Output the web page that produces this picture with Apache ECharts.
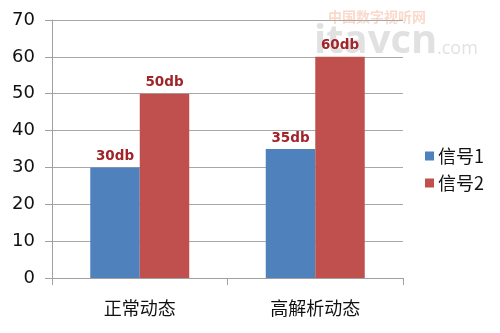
<!DOCTYPE html>
<html><head><meta charset="utf-8">
<script src="https://cdn.jsdelivr.net/npm/echarts@6/dist/echarts.min.js"></script>
<style>html,body{margin:0;padding:0;background:#fff}#c{width:500px;height:333px}</style>
</head><body><div id="c"></div>
<script>
const categories = ['正常动态', '高解析动态'];
const series1Name = '信号1';
const series2Name = '信号2';
const series1 = [30, 35];
const series2 = [50, 60];
const yTicks = [0, 10, 20, 30, 40, 50, 60, 70];

const chart = echarts.init(document.getElementById('c'));
const labelStyle = {
  show: true, position: 'top', distance: 4,
  formatter: p => p.value + 'db',
  color: '#A0242A', fontWeight: 'bold', fontSize: 13.5, fontFamily: 'DejaVu Sans'
};
chart.setOption({
  animation: false,
  backgroundColor: '#fff',
  grid: { left: 52, right: 97, top: 20, bottom: 55 },
  graphic: [
    { type: 'text', left: 328, top: 10, z: 0, style: { text: '中国数字视听网', font: 'bold 14px "Noto Sans CJK SC"', fill: 'rgba(245,170,140,0.45)' } },
    { type: 'text', left: 314, top: 22, z: 0, style: { text: 'itavcn', font: 'bold 40px "Open Sans"', fill: 'rgba(180,180,180,0.4)' } },
    { type: 'text', left: 437, top: 40, z: 0, style: { text: '.com', font: '18px "Open Sans"', fill: 'rgba(180,180,180,0.4)' } }
  ],
  legend: {
    orient: 'vertical', left: 420, top: 142, itemWidth: 9, itemHeight: 9, itemGap: 9,
    icon: 'rect',
    textStyle: { fontSize: 18, color: '#111', fontFamily: 'Noto Sans CJK SC', padding: [0,0,0,-1] },
    data: [series1Name, series2Name]
  },
  xAxis: {
    type: 'category', data: categories,
    axisLine: { lineStyle: { color: '#A0A0A0' } },
    axisTick: { show: true, length: 7, lineStyle: { color: '#A0A0A0' } },
    axisLabel: { margin: 21, fontSize: 18, color: '#111', fontFamily: 'Noto Sans CJK SC' }
  },
  yAxis: {
    type: 'value', min: yTicks[0], max: yTicks[yTicks.length-1], interval: 10,
    axisLine: { show: true, lineStyle: { color: '#A0A0A0' } },
    axisTick: { show: true, length: 7, lineStyle: { color: '#A0A0A0' } },
    axisLabel: { margin: 17, fontSize: 18, color: '#111', fontFamily: 'DejaVu Sans' },
    splitLine: { lineStyle: { color: '#A8A8A8' } }
  },
  series: [
    { name: series1Name, type: 'bar', data: series1, barGap: '0%', barCategoryGap: '43.6%',
      itemStyle: { color: '#4F81BD' }, label: labelStyle },
    { name: series2Name, type: 'bar', data: series2,
      itemStyle: { color: '#C0504D' }, label: labelStyle }
  ]
});
</script></body></html>
